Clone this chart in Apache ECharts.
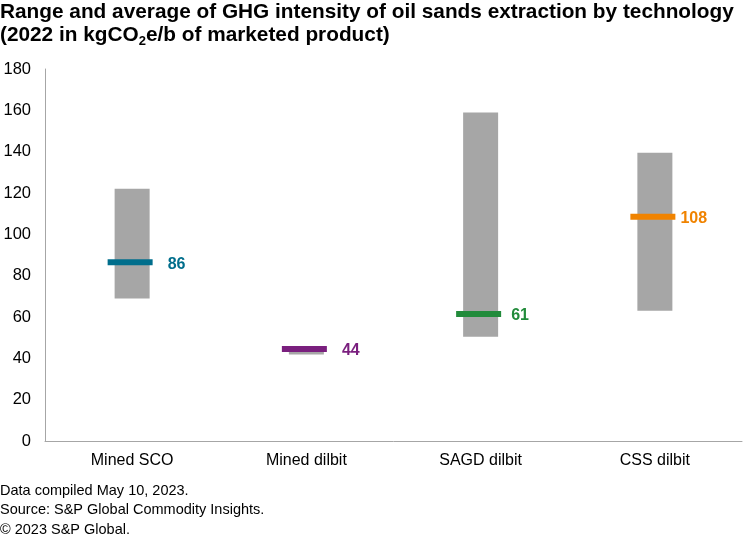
<!DOCTYPE html>
<html><head><meta charset="utf-8">
<script src="https://cdn.jsdelivr.net/npm/echarts@6/dist/echarts.min.js"></script>
<style>html,body{margin:0;padding:0;background:#fff}#c{width:743px;height:541px}</style>
</head><body><div id="c"></div>
<script>
const categories = ['Mined SCO', 'Mined dilbit', 'SAGD dilbit', 'CSS dilbit'];
const rangeLow = [69, 41.8, 50.5, 63];
const rangeHigh = [122, 44, 159, 139.5];
const averages = [86, 44, 61, 108];
const avgColors = ['#006e8c', '#7a1f7e', '#228b3b', '#f08300'];
const labelGaps = [15, 15, 10, 5];
const yTicks = { min: 0, max: 180, interval: 20 };

const chart = echarts.init(document.getElementById('c'));
const FONT = 'Liberation Sans, Arial, sans-serif';
chart.setOption({
  animation: false,
  textStyle: { fontFamily: FONT },
  graphic: [
    { type: 'text', left: 0, top: 2, style: { text: 'Range and average of GHG intensity of oil sands extraction by technology', font: 'bold 20.8px ' + FONT, fill: '#000' } },
    { type: 'text', left: 0, top: 25, style: { rich: {
        t: { font: 'bold 20.8px ' + FONT, fill: '#000' },
        s: { font: 'bold 13px ' + FONT, fill: '#000', padding: [11, 0, 0, 0] } },
      text: '{t|(2022 in kgCO}{s|2}{t|e/b of marketed product)}' } },
    { type: 'text', left: 0, top: 483, style: { text: 'Data compiled May 10, 2023.', font: '14.5px ' + FONT, fill: '#000' } },
    { type: 'text', left: 0, top: 502, style: { text: 'Source: S&P Global Commodity Insights.', font: '14.5px ' + FONT, fill: '#000' } },
    { type: 'text', left: 0, top: 522, style: { text: '© 2023 S&P Global.', font: '14.5px ' + FONT, fill: '#000' } }
  ],
  grid: { left: 45, right: 1, top: 69, bottom: 100, containLabel: false },
  xAxis: {
    type: 'category', data: categories,
    axisLine: { lineStyle: { color: '#a6a6a6' } }, axisTick: { show: false },
    axisLabel: { color: '#000', fontSize: 16, margin: 12, fontFamily: FONT }
  },
  yAxis: {
    type: 'value', min: yTicks.min, max: yTicks.max, interval: yTicks.interval,
    axisLine: { show: true, lineStyle: { color: '#a6a6a6' } }, axisTick: { show: false },
    splitLine: { show: false },
    axisLabel: { color: '#000', fontSize: 16.5, margin: 14, fontFamily: FONT }
  },
  series: [
    { type: 'bar', stack: 'r', data: rangeLow, barWidth: 35, itemStyle: { color: 'transparent' }, silent: true },
    { type: 'bar', stack: 'r', data: rangeHigh.map((h, i) => h - rangeLow[i]), barWidth: 35, itemStyle: { color: '#a6a6a6' } },
    { type: 'scatter', symbol: 'rect', symbolSize: [45, 6], symbolOffset: [-2, -1], z: 5,
      itemStyle: { opacity: 1 },
      data: averages.map((v, i) => ({ value: v, itemStyle: { color: avgColors[i], opacity: 1 },
        label: { color: avgColors[i], distance: labelGaps[i] } })),
      label: { show: true, position: 'right', fontSize: 16, fontWeight: 'bold', fontFamily: FONT,
        formatter: p => p.value, offset: [0, 2] } }
  ]
});
</script></body></html>
